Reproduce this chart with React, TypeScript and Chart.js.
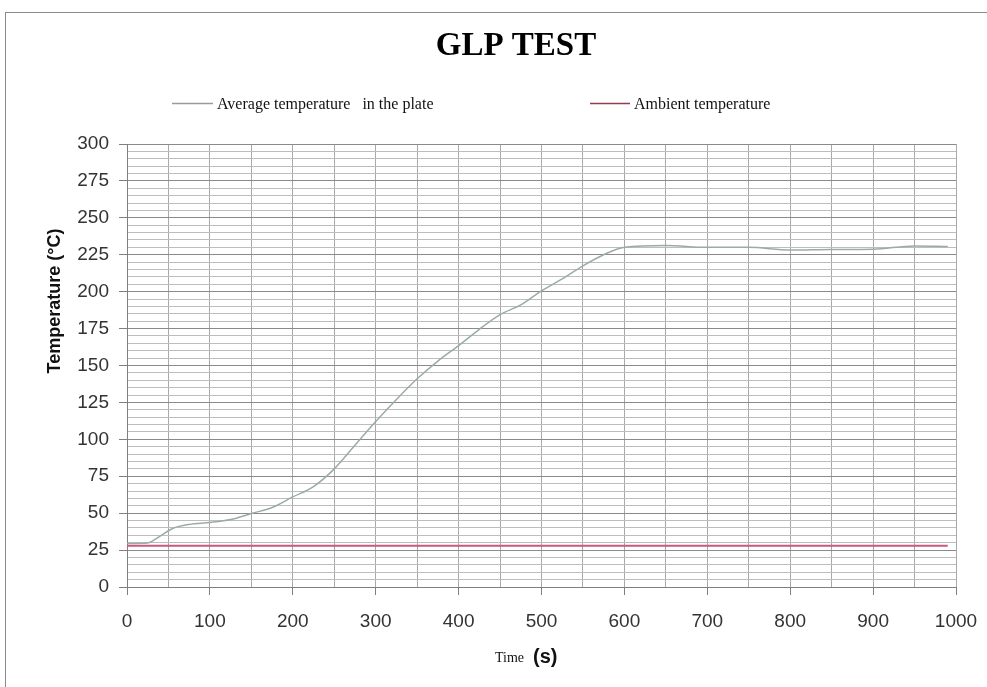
import React, { useEffect, useRef } from "react";
import { Chart, registerables } from "chart.js";

Chart.register(...registerables);

const TITLE = "GLP TEST";
const SERIES_AVG = "Average temperature   in the plate";
const SERIES_AMB = "Ambient temperature";
const Y_TITLE = "Temperature (°C)";
const X_TITLE_A = "Time";
const X_TITLE_B = "(s)";

const avgTime = [0, 25, 40, 55, 75, 100, 125, 150, 175, 200, 225, 250, 275, 300, 325, 350, 375, 400, 425, 450, 475, 500, 525, 550, 575, 600, 650, 700, 750, 800, 850, 900, 950, 990];
const avgTemp = [29.5, 29.8, 34.5, 39.6, 42.4, 43.7, 45.7, 49.8, 53.8, 61, 68, 80, 96, 112, 127, 141, 153, 163.5, 174.5, 184.5, 191, 200.5, 208.6, 217.5, 225, 230, 231.3, 230, 230, 228.2, 228.6, 228.8, 231, 230.6];

const ambTime = [0, 100, 200, 300, 400, 500, 600, 700, 800, 900, 990];
const ambTemp = [28, 28, 28, 28, 28, 28, 28, 28, 28, 28, 28];

const Y_MIN = 0;
const Y_MAX = 300;
const Y_STEP = 5;
const Y_LABEL_STEP = 25;
const X_MIN = 0;
const X_MAX = 1000;
const X_STEP = 50;
const X_LABEL_STEP = 100;

const AVG_COLOR = "#9aaca7";
const AMB_COLOR = "#c9587a";
const AVG_LEGEND = "#9a9a9a";
const AMB_LEGEND = "#8e4052";

const decorPlugin = {
  id: "decor",
  beforeDraw(chart: any) {
    const c = chart.ctx;
    c.save();
    c.fillStyle = "#ffffff";
    c.fillRect(0, 0, chart.width, chart.height);
    c.strokeStyle = "#8a8a8a";
    c.lineWidth = 1;
    c.strokeRect(5.5, 12.5, 1100, 800);
    c.restore();
  },
  afterDraw(chart: any) {
    const c = chart.ctx;
    c.save();
    c.fillStyle = "#000";
    c.font = "bold 33px 'Liberation Serif'";
    c.textAlign = "center";
    c.textBaseline = "alphabetic";
    c.fillText(TITLE, 516, 55);

    c.font = "16px 'Liberation Serif'";
    c.textAlign = "left";
    c.lineWidth = 1.5;
    c.strokeStyle = AVG_LEGEND;
    c.beginPath();
    c.moveTo(172, 103.5);
    c.lineTo(213, 103.5);
    c.stroke();
    c.fillStyle = "#111";
    c.fillText(SERIES_AVG, 217, 109);
    c.strokeStyle = AMB_LEGEND;
    c.beginPath();
    c.moveTo(590, 103.5);
    c.lineTo(630, 103.5);
    c.stroke();
    c.fillText(SERIES_AMB, 634, 109);

    c.save();
    c.translate(60, 301);
    c.rotate(-Math.PI / 2);
    c.font = "bold 18px 'Liberation Sans'";
    c.textAlign = "center";
    c.fillStyle = "#111";
    c.fillText(Y_TITLE, 0, 0);
    c.restore();

    c.font = "14px 'Liberation Serif'";
    c.textAlign = "left";
    c.fillStyle = "#111";
    c.fillText(X_TITLE_A, 495, 662);
    c.font = "bold 20px 'Liberation Sans'";
    c.fillText(X_TITLE_B, 533, 663);
    c.restore();
  },
};

export default function App() {
  const ref = useRef<HTMLCanvasElement | null>(null);
  useEffect(() => {
    if (!ref.current) return;
    const chart = new Chart(ref.current, {
      type: "line",
      data: {
        datasets: [
          {
            label: SERIES_AVG,
            data: avgTime.map((t, i) => ({ x: t, y: avgTemp[i] })),
            borderColor: AVG_COLOR,
            backgroundColor: AVG_COLOR,
            borderWidth: 1.5,
            pointRadius: 0,
            tension: 0.4,
            cubicInterpolationMode: "monotone",
          },
          {
            label: SERIES_AMB,
            data: ambTime.map((t, i) => ({ x: t, y: ambTemp[i] })),
            borderColor: AMB_COLOR,
            backgroundColor: AMB_COLOR,
            borderWidth: 2,
            pointRadius: 0,
            tension: 0,
          },
        ],
      },
      options: {
        responsive: false,
        animation: false,
        layout: { padding: { top: 144, right: 31, left: 0, bottom: 0 } },
        plugins: {
          legend: { display: false },
          title: { display: false },
          tooltip: { enabled: false },
        },
        scales: {
          x: {
            type: "linear",
            min: X_MIN,
            max: X_MAX,
            afterFit: (s: any) => {
              s.height = 100;
              s.paddingLeft = 0;
              s.paddingRight = 0;
            },
            border: { color: "#7f7f7f", width: 1 },
            grid: {
              color: "#a9a9a9",
              lineWidth: 1,
              tickLength: 8,
              tickColor: (ctx: any) =>
                ctx.tick && ctx.tick.value % X_LABEL_STEP === 0 ? "#7f7f7f" : "rgba(0,0,0,0)",
            },
            ticks: {
              stepSize: X_STEP,
              autoSkip: false,
              maxRotation: 0,
              padding: 15,
              color: "#333",
              font: { family: "'Liberation Sans'", size: 19 },
              callback: (v: any) => (Number(v) % X_LABEL_STEP === 0 ? String(v) : ""),
            },
          },
          y: {
            type: "linear",
            min: Y_MIN,
            max: Y_MAX,
            afterFit: (s: any) => {
              s.width = 127;
              s.paddingTop = 0;
              s.paddingBottom = 0;
            },
            border: { color: "#7f7f7f", width: 1 },
            grid: {
              color: (ctx: any) =>
                ctx.tick && ctx.tick.value % Y_LABEL_STEP === 0 ? "#8a8a8a" : "#bdbdbd",
              lineWidth: 1,
              tickLength: 8,
              tickColor: (ctx: any) =>
                ctx.tick && ctx.tick.value % Y_LABEL_STEP === 0 ? "#7f7f7f" : "rgba(0,0,0,0)",
            },
            ticks: {
              stepSize: Y_STEP,
              autoSkip: false,
              padding: 10,
              color: "#333",
              font: { family: "'Liberation Sans'", size: 19 },
              callback: (v: any) => (Number(v) % Y_LABEL_STEP === 0 ? String(v) : ""),
            },
          },
        },
      },
      plugins: [decorPlugin],
    } as any);
    return () => chart.destroy();
  }, []);
  return (
    <div style={{ position: "absolute", left: 0, top: 0, width: 987, height: 687 }}>
      <canvas ref={ref} width={987} height={687} style={{ width: 987, height: 687, display: "block" }} />
    </div>
  );
}
